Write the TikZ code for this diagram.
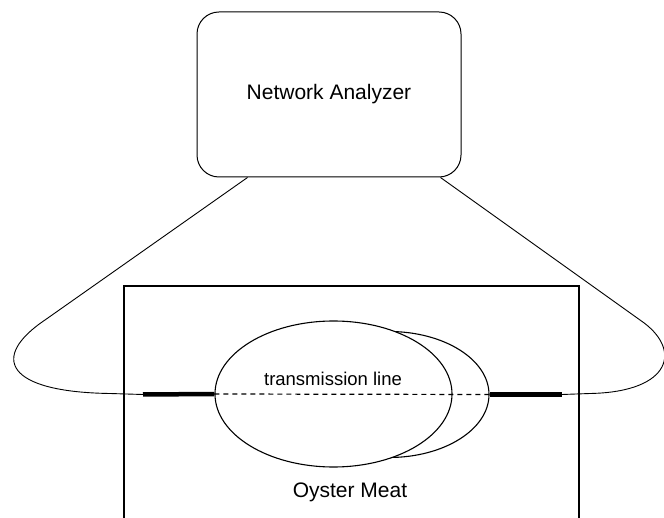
\documentclass[tikz,border=0pt]{standalone}
\usepackage{fontspec}
\setmainfont{Liberation Sans}
\usetikzlibrary{shapes.geometric,calc}

\begin{document}
\begin{tikzpicture}[x=1pt,y=-1pt,line width=1pt]
	\tikzstyle{box}=[draw,rectangle,inner sep=0pt]
	\tikzstyle{shell}=[draw,ellipse,fill=white,inner sep=0pt,line width=1.1pt]
	\tikzstyle{lead}=[line width=4.5pt]
	\tikzstyle{cable}=[line width=0.9pt]

	\useasboundingbox (0,0) rectangle (664,518);
	\clip (0,0) rectangle (664,518);

	\node[box,rounded corners=22pt,minimum width=264pt,minimum height=165pt] (analyzer) at (329,94.5)
		{\fontsize{21}{25}\selectfont Network Analyzer};

	\node[box,line width=1.2pt,minimum width=455pt,minimum height=270pt] (meat) at (351.5,421) {};
	\node (meatlabel) at (350,492) {\fontsize{21}{25}\selectfont Oyster Meat};

	\node[shell,minimum width=200pt,minimum height=126pt] (back) at (389,394.5) {};
	\node[shell,minimum width=237pt,minimum height=146pt] (front) at (333.5,394) {};
	\node (tline) at (333,379) {\fontsize{18.5}{22}\selectfont transmission line};

	\coordinate (lend) at (143,394.5);
	\coordinate (rend) at (562,394.5);
	\coordinate (lport) at ($(analyzer.south west)+(51,0)$);
	\coordinate (rport) at ($(analyzer.south east)+(-21,0)$);

	\draw[line width=1.2pt,dash pattern=on 5pt off 4pt] (front.west) -- (back.east);
	\draw[lead] (lend) -- (front.west);
	\draw[lead] (back.east) -- (rend);

	\draw[cable] (lport) -- (45,320) .. controls (-10,357) and (5,392) .. (110,393.5) -- (lend);
	\draw[cable] (rport) -- (640,320) .. controls (683,349) and (672,392) .. (590,393.5) -- (rend);
\end{tikzpicture}
\end{document}
